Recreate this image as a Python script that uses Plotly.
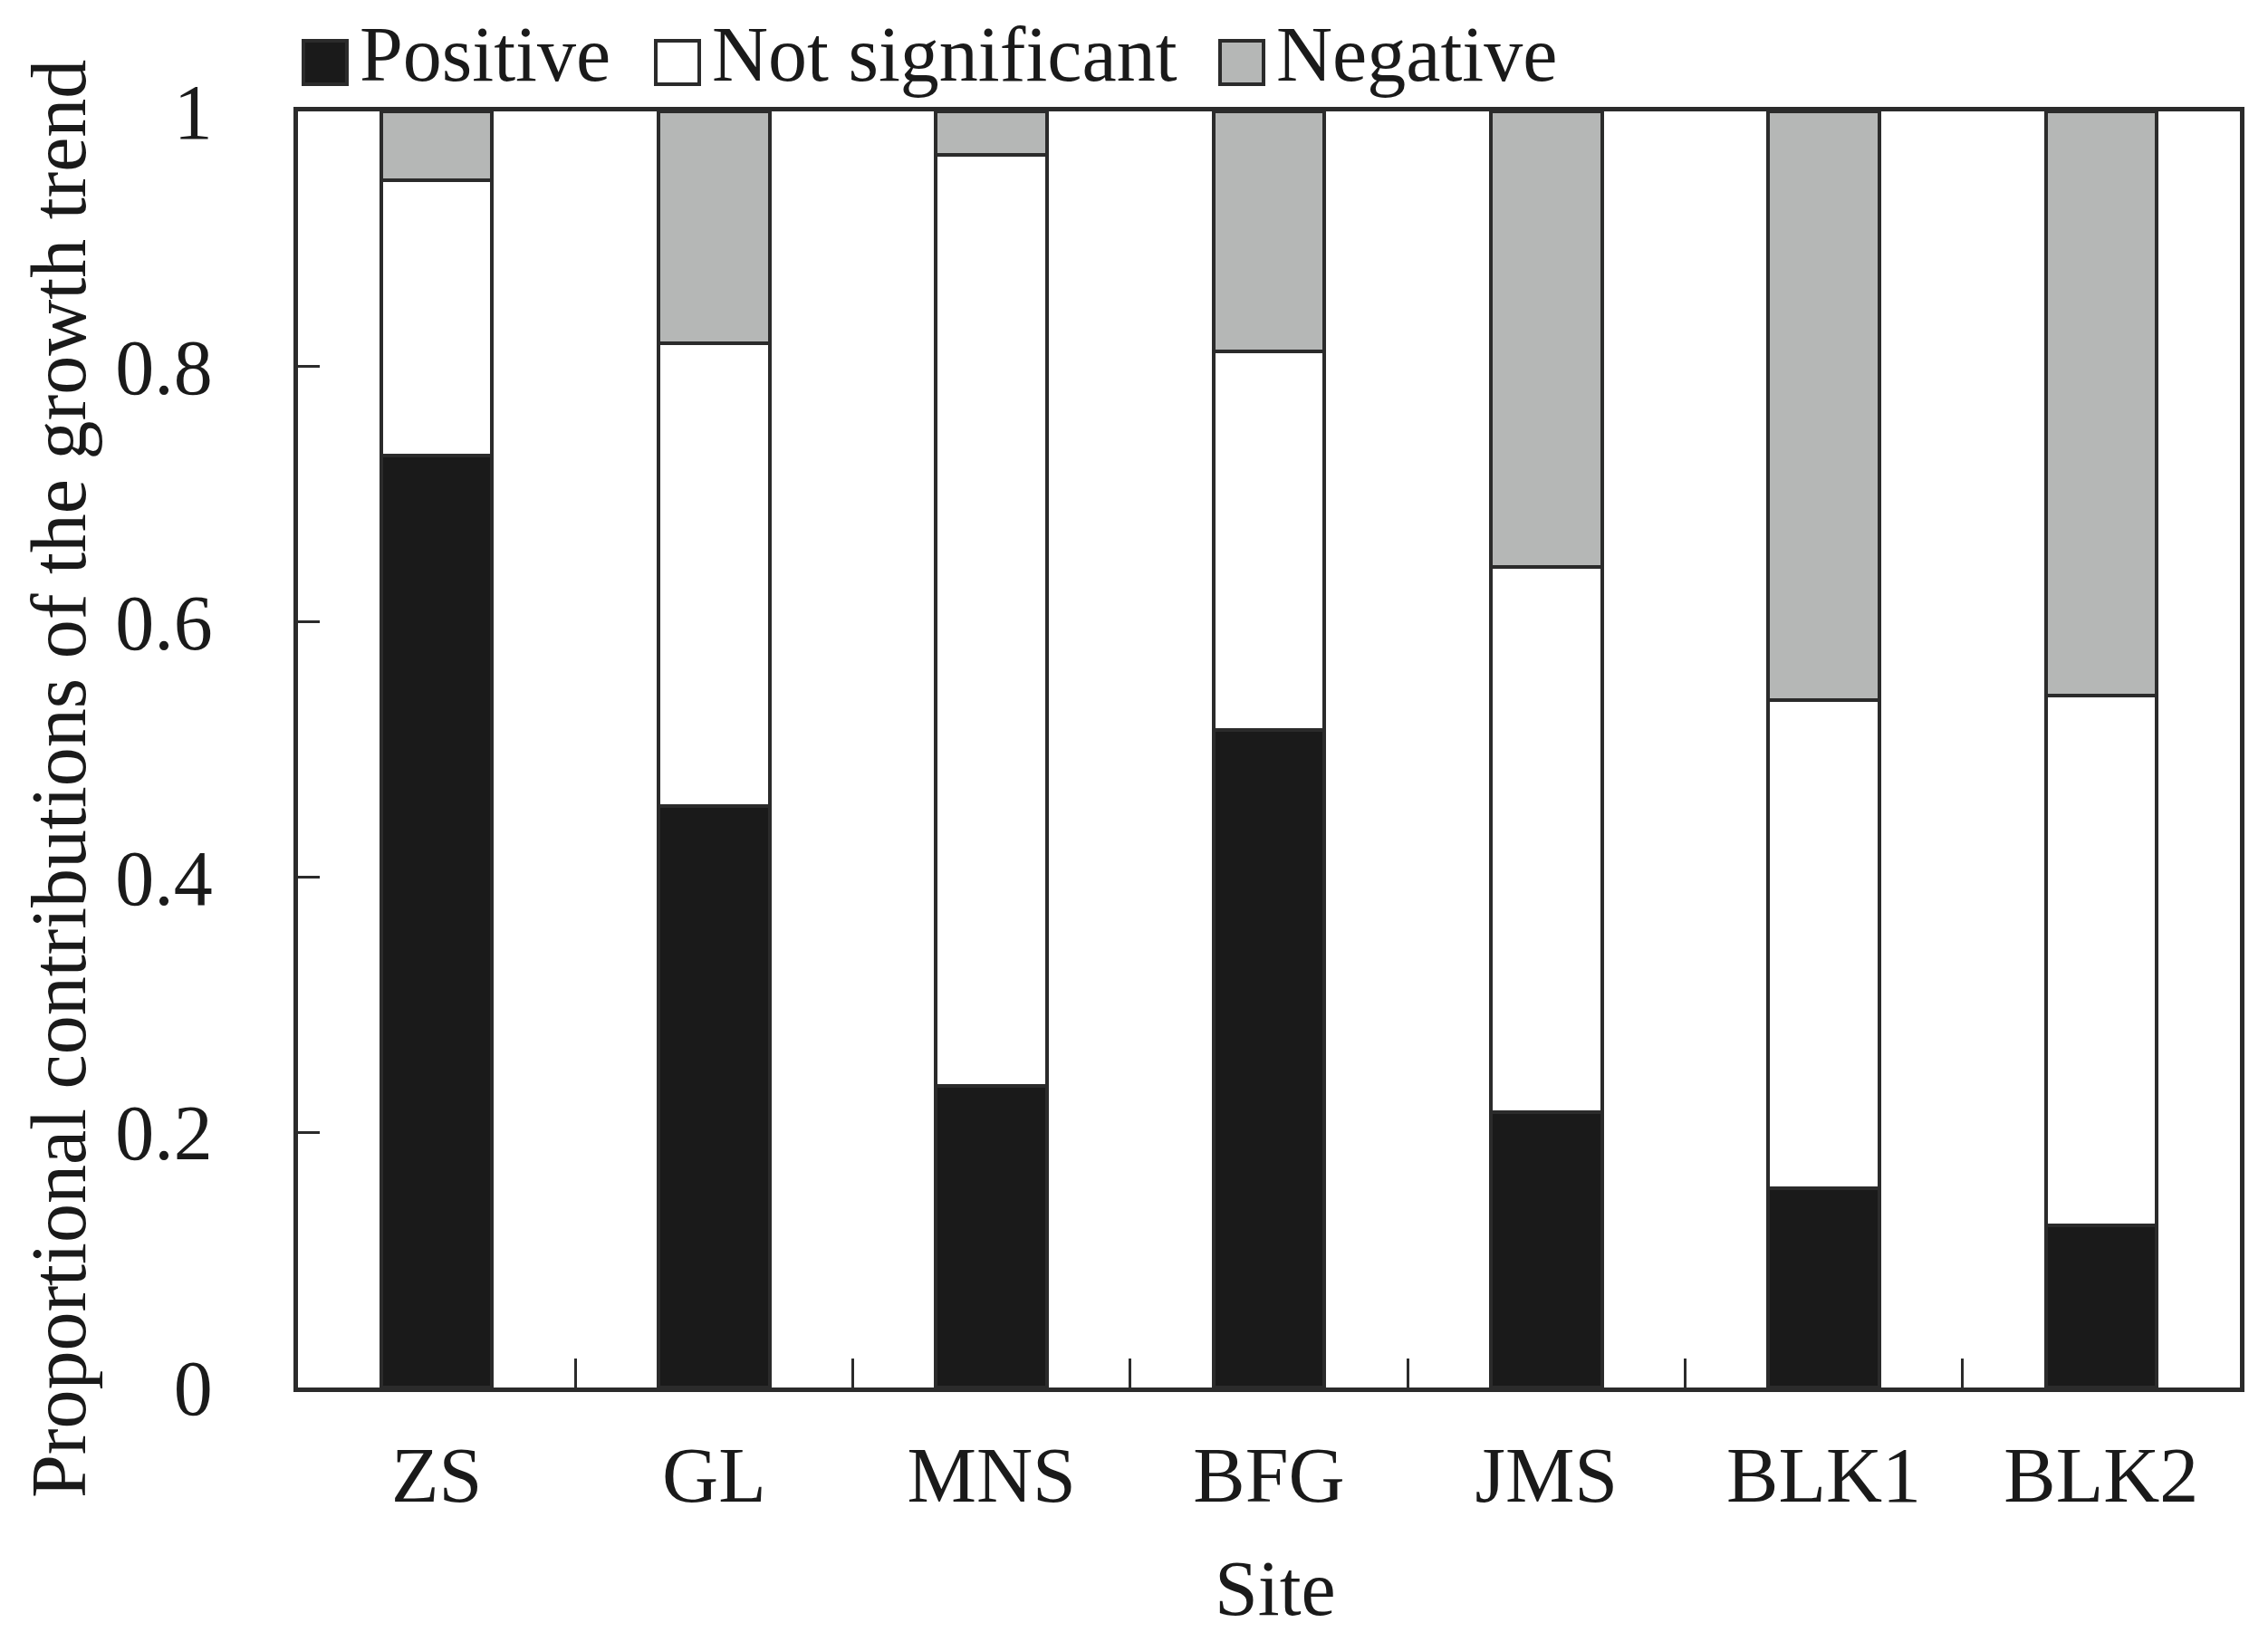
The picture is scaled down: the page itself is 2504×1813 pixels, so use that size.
import plotly.graph_objects as go

sites = ["ZS", "GL", "MNS", "BFG", "JMS", "BLK1", "BLK2"]
positive = [0.730, 0.456, 0.236, 0.515, 0.216, 0.156, 0.127]
not_significant = [0.216, 0.362, 0.730, 0.297, 0.427, 0.383, 0.415]
negative = [round(1 - p - n, 3) for p, n in zip(positive, not_significant)]
series_names = ["Positive", "Not significant", "Negative"]
series_colors = ["#1a1a1a", "#ffffff", "#b5b7b6"]
y_ticks = [0, 0.2, 0.4, 0.6, 0.8, 1.0]
y_ticktext = ["0", "0.2", "0.4", "0.6", "0.8", "1"]

W, H = 2504, 1813
L, R, T, B = 321, 2465, 115, 1524
PW, PH = R - L, B - T

def px_x(x):
    return (x - L) / PW

def px_y(y):
    return (B - y) / PH

FONT = "Liberation Serif, Times New Roman, serif"
INK = "#1a1a1a"
LINE = "#2b2b2b"
FS = 86

fig = go.Figure()
for name, vals, col in zip(series_names, [positive, not_significant, negative], series_colors):
    fig.add_trace(go.Bar(
        x=sites, y=vals, name=name, width=0.4,
        marker=dict(color=col, line=dict(color=LINE, width=4)),
        showlegend=False,
    ))

# manual legend (large square swatches)
legend_pos = [(327, 391), (716, 780), (1339, 1403)]
shapes = []
annotations = []
for (sx, tx), name, col in zip(legend_pos, series_names, series_colors):
    shapes.append(dict(type="rect", xref="paper", yref="paper",
                       x0=px_x(sx), x1=px_x(sx + 48), y0=px_y(85), y1=px_y(37),
                       fillcolor=col, line=dict(color=LINE, width=4)))
    annotations.append(dict(text=name, xref="paper", yref="paper",
                            x=px_x(tx - 4), y=px_y(52), xanchor="left", yanchor="middle",
                            showarrow=False, font=dict(family=FONT, size=FS, color=INK)))

annotations.append(dict(text="Proportional contributions of the growth trend",
                        xref="paper", yref="paper", x=px_x(57), y=px_y(852),
                        xanchor="center", yanchor="middle", textangle=-90,
                        showarrow=False, font=dict(family=FONT, size=FS, color=INK)))
annotations.append(dict(text="Site", xref="paper", yref="paper", x=px_x(1400), y=px_y(1746),
                        xanchor="center", yanchor="middle",
                        showarrow=False, font=dict(family=FONT, size=FS, color=INK)))

fig.update_layout(
    width=W, height=H, autosize=False,
    margin=dict(l=L, r=W - R, t=T, b=H - B, pad=0),
    barmode="stack", bargap=0.6,
    plot_bgcolor="white", paper_bgcolor="white",
    font=dict(family=FONT, size=FS, color=INK),
    shapes=shapes, annotations=annotations,
)
fig.update_xaxes(
    type="category", range=[-0.5, 6.5], showline=True, mirror=True,
    linecolor=LINE, linewidth=5, ticks="inside", tickson="boundaries",
    ticklen=32, tickwidth=3, tickcolor=LINE, showgrid=False, zeroline=False,
    tickfont=dict(family=FONT, size=FS, color=INK), ticklabelstandoff=18,
)
fig.update_yaxes(
    range=[0, 1], tickvals=y_ticks, ticktext=y_ticktext, showline=True, mirror=True,
    linecolor=LINE, linewidth=5, ticks="inside", ticklen=24, tickwidth=3,
    tickcolor=LINE, showgrid=False, zeroline=False,
    tickfont=dict(family=FONT, size=FS, color=INK), ticklabelstandoff=72,
)

fig.write_html("out.html")
